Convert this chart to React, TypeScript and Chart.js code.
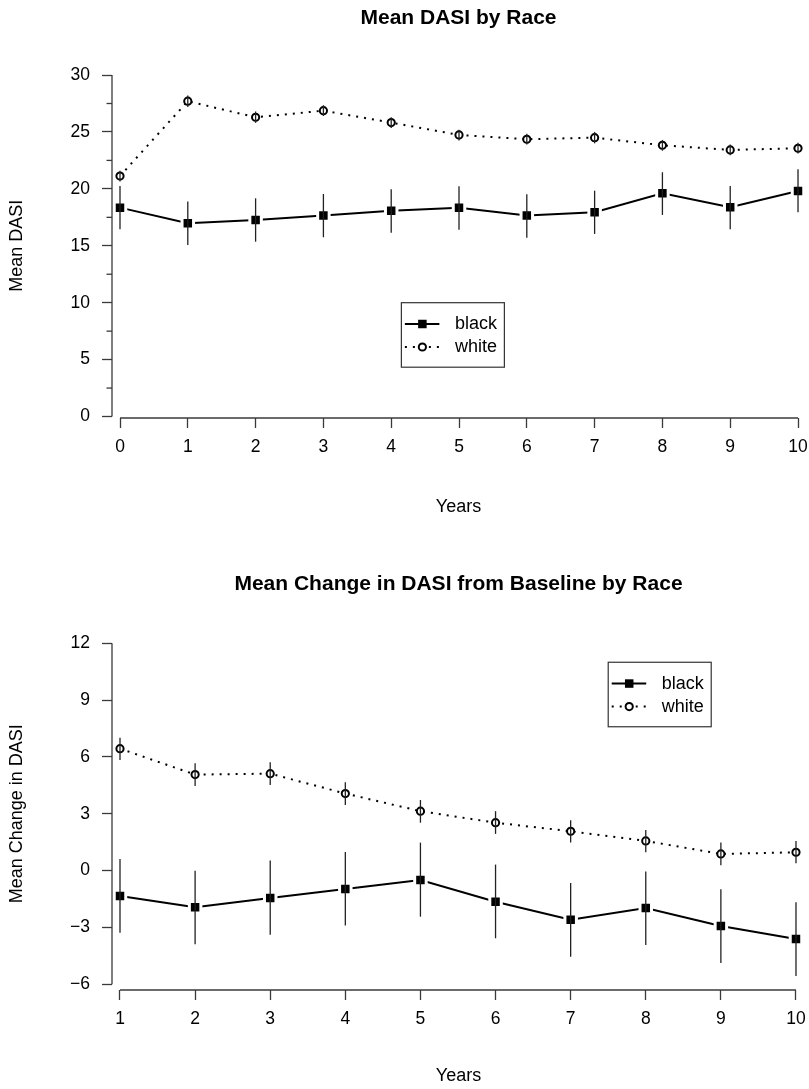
import React, { useEffect, useRef } from 'react';
import { Chart, registerables } from 'chart.js';

Chart.register(...registerables);

const FONT = '"Liberation Sans", Arial, Helvetica, sans-serif';

// ---------- Panel 1: Mean DASI by Race ----------
const p1Years = [0, 1, 2, 3, 4, 5, 6, 7, 8, 9, 10];
const p1BlackMean = [18.35, 16.98, 17.27, 17.65, 18.08, 18.35, 17.65, 17.94, 19.61, 18.38, 19.82];
const p1BlackLower = [16.45, 15.07, 15.36, 15.75, 16.15, 16.41, 15.71, 16.04, 17.71, 16.45, 17.94];
const p1BlackUpper = [20.25, 18.88, 19.17, 19.55, 19.96, 20.23, 19.53, 19.84, 21.46, 20.25, 21.72];
const p1WhiteMean = [21.13, 27.7, 26.29, 26.87, 25.82, 24.74, 24.36, 24.5, 23.83, 23.42, 23.57];
const p1WhiteLower = [20.65, 27.2, 25.8, 26.4, 25.35, 24.25, 23.9, 24.0, 23.35, 22.95, 23.1];
const p1WhiteUpper = [21.6, 28.2, 26.8, 27.35, 26.3, 25.2, 24.85, 25.0, 24.3, 23.9, 24.05];
const p1XTicks = [0, 1, 2, 3, 4, 5, 6, 7, 8, 9, 10];
const p1XTickLabels = ['0', '1', '2', '3', '4', '5', '6', '7', '8', '9', '10'];
const p1YTicks = [0, 5, 10, 15, 20, 25, 30];
const p1YTickLabels = ['0', '5', '10', '15', '20', '25', '30'];
const p1YMinorTicks = [2.5, 7.5, 12.5, 17.5, 22.5, 27.5];

// ---------- Panel 2: Mean Change in DASI from Baseline by Race ----------
const p2Years = [1, 2, 3, 4, 5, 6, 7, 8, 9, 10];
const p2BlackMean = [-1.34, -1.93, -1.44, -0.97, -0.49, -1.64, -2.59, -1.97, -2.92, -3.61];
const p2BlackLower = [-3.28, -3.89, -3.38, -2.9, -2.43, -3.57, -4.54, -3.92, -4.87, -5.56];
const p2BlackUpper = [0.62, 0.0, 0.53, 0.99, 1.48, 0.32, -0.65, -0.04, -0.98, -1.67];
const p2WhiteMean = [6.44, 5.07, 5.12, 4.07, 3.14, 2.53, 2.08, 1.57, 0.88, 0.97];
const p2WhiteLower = [5.84, 4.47, 4.52, 3.47, 2.53, 1.94, 1.48, 0.97, 0.28, 0.39];
const p2WhiteUpper = [7.02, 5.67, 5.72, 4.67, 3.73, 3.14, 2.66, 2.15, 1.48, 1.57];
const p2XTicks = [1, 2, 3, 4, 5, 6, 7, 8, 9, 10];
const p2XTickLabels = ['1', '2', '3', '4', '5', '6', '7', '8', '9', '10'];
const p2YTicks = [-6, -3, 0, 3, 6, 9, 12];
const p2YTickLabels = ['\u22126', '\u22123', '0', '3', '6', '9', '12'];
const p2YMinorTicks: number[] = [];

const legendLabels = ['black', 'white'];

type Spec = {
  height: number;
  padTop: number;
  padBottom: number;
  xMin: number; xMax: number; yMin: number; yMax: number;
  title: string; titleY: number;
  yTitle: string; yTitleX: number;
  xTitle: string; xTitleY: number;
  legendX: number; legendY: number;
  years: number[];
  blackMean: number[]; blackLower: number[]; blackUpper: number[];
  whiteMean: number[]; whiteLower: number[]; whiteUpper: number[];
  xTicks: number[]; xTickLabels: string[];
  yTicks: number[]; yTickLabels: string[]; yMinor: number[];
};

const spec1: Spec = {
  height: 545, padTop: 64, padBottom: 87,
  xMin: -0.118, xMax: 10.103, yMin: -0.13, yMax: 30.97,
  title: 'Mean DASI by Race', titleY: 18,
  yTitle: 'Mean DASI', yTitleX: 17,
  xTitle: 'Years', xTitleY: 507,
  legendX: 4.15, legendY: 10,
  years: p1Years,
  blackMean: p1BlackMean, blackLower: p1BlackLower, blackUpper: p1BlackUpper,
  whiteMean: p1WhiteMean, whiteLower: p1WhiteLower, whiteUpper: p1WhiteUpper,
  xTicks: p1XTicks, xTickLabels: p1XTickLabels,
  yTicks: p1YTicks, yTickLabels: p1YTickLabels, yMinor: p1YMinorTicks,
};

const spec2: Spec = {
  height: 544, padTop: 93, padBottom: 59,
  xMin: 0.8935, xMax: 10.12, yMin: -6.3, yMax: 12.28,
  title: 'Mean Change in DASI from Baseline by Race', titleY: 39,
  yTitle: 'Mean Change in DASI', yTitleX: 17,
  xTitle: 'Years', xTitleY: 531,
  legendX: 7.5, legendY: 11,
  years: p2Years,
  blackMean: p2BlackMean, blackLower: p2BlackLower, blackUpper: p2BlackUpper,
  whiteMean: p2WhiteMean, whiteLower: p2WhiteLower, whiteUpper: p2WhiteUpper,
  xTicks: p2XTicks, xTickLabels: p2XTickLabels,
  yTicks: p2YTicks, yTickLabels: p2YTickLabels, yMinor: p2YMinorTicks,
};

const AXIS_COLOR = '#3a3a3a';
const DOT_DASH = [2, 6];

function makeChart(canvas: HTMLCanvasElement, s: Spec) {
  const rPlugin = {
    id: 'rstyle',
    afterDatasetsDraw(chart: any) {
      const ctx = chart.ctx;
      const xs = chart.scales.x;
      const ys = chart.scales.y;
      ctx.save();
      ctx.strokeStyle = '#222';
      ctx.lineWidth = 1.3;
      ctx.setLineDash([]);
      const bars = [
        [s.blackLower, s.blackUpper],
        [s.whiteLower, s.whiteUpper],
      ];
      bars.forEach(([lo, hi]) => {
        s.years.forEach((yr, i) => {
          const x = xs.getPixelForValue(yr);
          ctx.beginPath();
          ctx.moveTo(x, ys.getPixelForValue(lo[i]));
          ctx.lineTo(x, ys.getPixelForValue(hi[i]));
          ctx.stroke();
        });
      });
      ctx.restore();
    },
    afterDraw(chart: any) {
      const ctx = chart.ctx;
      const xs = chart.scales.x;
      const ys = chart.scales.y;
      const area = chart.chartArea;
      ctx.save();
      // axis lines (R style: span first..last tick)
      ctx.strokeStyle = AXIS_COLOR;
      ctx.lineWidth = 1.3;
      ctx.beginPath();
      ctx.moveTo(area.left, ys.getPixelForValue(s.yTicks[0]));
      ctx.lineTo(area.left, ys.getPixelForValue(s.yTicks[s.yTicks.length - 1]));
      ctx.stroke();
      ctx.beginPath();
      ctx.moveTo(xs.getPixelForValue(s.xTicks[0]), area.bottom);
      ctx.lineTo(xs.getPixelForValue(s.xTicks[s.xTicks.length - 1]), area.bottom);
      ctx.stroke();
      // minor ticks
      s.yMinor.forEach((v) => {
        const y = ys.getPixelForValue(v);
        ctx.beginPath();
        ctx.moveTo(area.left, y);
        ctx.lineTo(area.left - 5.5, y);
        ctx.stroke();
      });
      // titles
      ctx.fillStyle = '#000';
      ctx.textAlign = 'center';
      ctx.textBaseline = 'middle';
      const cx = (area.left + area.right) / 2;
      ctx.font = `bold 21px ${FONT}`;
      ctx.fillText(s.title, cx, s.titleY);
      ctx.font = `18px ${FONT}`;
      ctx.fillText(s.xTitle, cx, s.xTitleY);
      const yMid = (ys.getPixelForValue(s.yTicks[0]) + ys.getPixelForValue(s.yTicks[s.yTicks.length - 1])) / 2;
      ctx.save();
      ctx.translate(s.yTitleX, yMid);
      ctx.rotate(-Math.PI / 2);
      ctx.fillText(s.yTitle, 0, 0);
      ctx.restore();

      // legend
      const L = xs.getPixelForValue(s.legendX);
      const T = ys.getPixelForValue(s.legendY);
      const W = 103;
      const H = 64.5;
      ctx.fillStyle = '#fff';
      ctx.fillRect(L, T, W, H);
      ctx.strokeStyle = '#333';
      ctx.lineWidth = 1.2;
      ctx.strokeRect(L, T, W, H);
      const r1 = T + 21.3;
      const r2 = T + 44.3;
      const sx1 = L + 3.5;
      const sx2 = L + 38;
      const mx = L + 21;
      // black row
      ctx.strokeStyle = '#000';
      ctx.lineWidth = 2;
      ctx.beginPath();
      ctx.moveTo(sx1, r1);
      ctx.lineTo(sx2, r1);
      ctx.stroke();
      ctx.fillStyle = '#000';
      ctx.fillRect(mx - 4.25, r1 - 4.25, 8.5, 8.5);
      // white row
      ctx.setLineDash(DOT_DASH);
      ctx.beginPath();
      ctx.moveTo(sx1, r2);
      ctx.lineTo(sx2, r2);
      ctx.stroke();
      ctx.setLineDash([]);
      ctx.fillStyle = '#fff';
      ctx.lineWidth = 2;
      ctx.beginPath();
      ctx.arc(mx, r2, 3.6, 0, Math.PI * 2);
      ctx.fill();
      ctx.stroke();
      ctx.fillStyle = '#000';
      ctx.textAlign = 'left';
      ctx.font = `18px ${FONT}`;
      ctx.fillText(legendLabels[0], L + 53.5, r1);
      ctx.fillText(legendLabels[1], L + 53.5, r2);
      ctx.restore();
    },
  };

  const fixPad = (sc: any) => {
    sc.paddingLeft = 0;
    sc.paddingRight = 0;
    sc.paddingTop = 0;
    sc.paddingBottom = 0;
  };

  return new Chart(canvas, {
    type: 'line',
    data: {
      datasets: [
        {
          label: legendLabels[0],
          data: s.years.map((x, i) => ({ x, y: s.blackMean[i] })),
          borderColor: '#000',
          borderWidth: 2,
          pointStyle: 'rect',
          pointRadius: 8.13,
          pointBackgroundColor: '#000',
          pointBorderColor: '#fff',
          pointBorderWidth: 3,
          tension: 0,
          clip: false,
        },
        {
          label: legendLabels[1],
          data: s.years.map((x, i) => ({ x, y: s.whiteMean[i] })),
          borderColor: '#000',
          borderWidth: 2,
          borderDash: DOT_DASH,
          borderCapStyle: 'butt',
          pointStyle: 'circle',
          pointRadius: 3.6,
          pointBackgroundColor: '#fff',
          pointBorderColor: '#000',
          pointBorderWidth: 2,
          tension: 0,
          clip: false,
        },
      ] as any,
    },
    options: {
      animation: false,
      responsive: false,
      devicePixelRatio: 1,
      events: [],
      layout: { autoPadding: false, padding: { left: 0, right: 4, top: s.padTop, bottom: s.padBottom } },
      plugins: {
        legend: { display: false },
        title: { display: false },
        tooltip: { enabled: false },
      },
      scales: {
        x: {
          type: 'linear',
          min: s.xMin,
          max: s.xMax,
          afterBuildTicks: (sc: any) => {
            sc.ticks = s.xTicks.map((v) => ({ value: v }));
          },
          afterFit: (sc: any) => {
            sc.height = 40;
            fixPad(sc);
          },
          ticks: {
            autoSkip: false,
            maxRotation: 0,
            minRotation: 0,
            padding: 9,
            color: '#000',
            font: { family: FONT, size: 17.5 },
            callback: (_v: any, i: number) => s.xTickLabels[i],
          },
          grid: {
            display: true,
            drawOnChartArea: false,
            drawTicks: true,
            tickLength: 10,
            tickColor: AXIS_COLOR,
            tickWidth: 1.3,
          },
          border: { display: false },
        },
        y: {
          type: 'linear',
          min: s.yMin,
          max: s.yMax,
          afterBuildTicks: (sc: any) => {
            sc.ticks = s.yTicks.map((v) => ({ value: v }));
          },
          afterFit: (sc: any) => {
            sc.width = 112;
            fixPad(sc);
          },
          ticks: {
            autoSkip: false,
            padding: 12,
            color: '#000',
            font: { family: FONT, size: 17.5 },
            callback: (_v: any, i: number) => s.yTickLabels[i],
          },
          grid: {
            display: true,
            drawOnChartArea: false,
            drawTicks: true,
            tickLength: 10,
            tickColor: AXIS_COLOR,
            tickWidth: 1.3,
          },
          border: { display: false },
        },
      },
    } as any,
    plugins: [rPlugin as any],
  });
}

function Panel({ spec }: { spec: Spec }) {
  const ref = useRef<HTMLCanvasElement | null>(null);
  useEffect(() => {
    if (!ref.current) return;
    const chart = makeChart(ref.current, spec);
    return () => chart.destroy();
  }, [spec]);
  return (
    <canvas
      ref={ref}
      width={809}
      height={spec.height}
      style={{ display: 'block', width: 809, height: spec.height }}
    />
  );
}

export default function App() {
  return (
    <div
      style={{
        position: 'absolute',
        left: 0,
        top: 0,
        width: 809,
        height: 1089,
        background: '#fff',
        overflow: 'hidden',
      }}
    >
      <Panel spec={spec1} />
      <Panel spec={spec2} />
    </div>
  );
}
